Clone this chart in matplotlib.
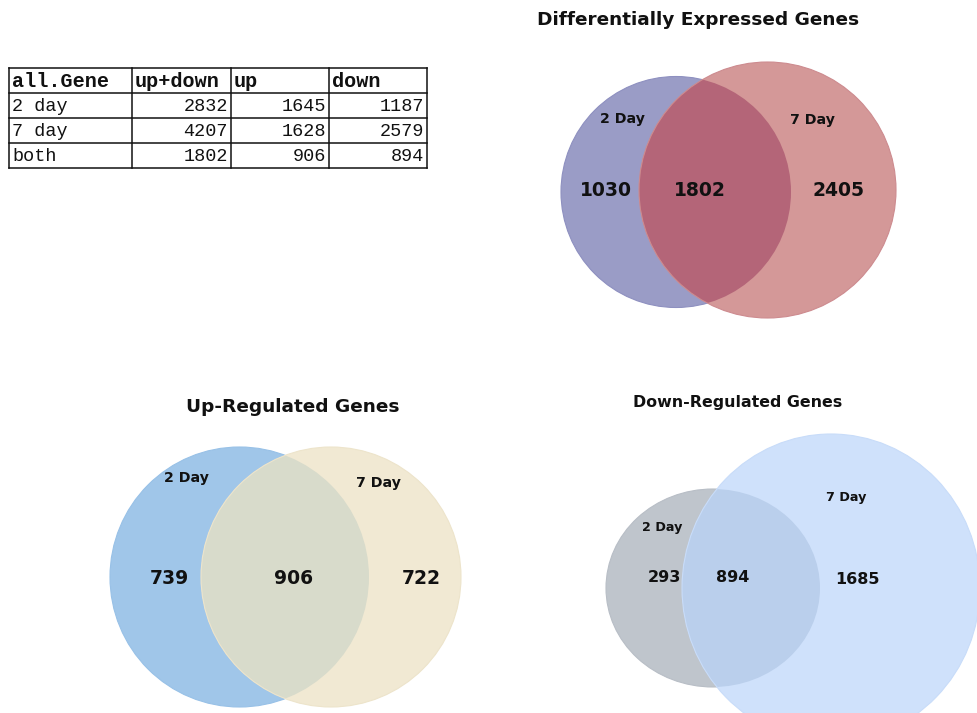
import matplotlib
matplotlib.use("Agg")
import matplotlib.pyplot as plt
from matplotlib.patches import Ellipse

# ---- data -------------------------------------------------------------
table_columns = ["all.Gene", "up+down", "up", "down"]
table_rows = ["2 day", "7 day", "both"]
updown_counts = [2832, 4207, 1802]
up_counts = [1645, 1628, 906]
down_counts = [1187, 2579, 894]

set_names = ["2 Day", "7 Day"]
# region counts: (only 2 Day, both, only 7 Day)
deg_regions = [1030, 1802, 2405]
up_regions = [739, 906, 722]
down_regions = [293, 894, 1685]

panel_titles = ["Differentially Expressed Genes", "Up-Regulated Genes",
                "Down-Regulated Genes"]

# ---- figure (pixel coordinate canvas) ---------------------------------
W, H = 978, 713
fig = plt.figure(figsize=(W / 100, H / 100), dpi=100)
ax = fig.add_axes([0, 0, 1, 1])
ax.set_xlim(0, W)
ax.set_ylim(H, 0)
ax.axis("off")

BOLD = dict(family="DejaVu Sans", fontweight="bold", color="#111111",
            ha="center", va="center")


def venn(spec):
    (ax1, ay1, rx1, ry1, c1, e1), (ax2, ay2, rx2, ry2, c2, e2), cov = spec
    a = Ellipse((ax1, ay1), 2 * rx1, 2 * ry1, facecolor=c1, edgecolor=e1,
                lw=0.8, zorder=1)
    b = Ellipse((ax2, ay2), 2 * rx2, 2 * ry2, facecolor=c2, edgecolor="none", zorder=2)
    ax.add_patch(a)
    ax.add_patch(b)
    ov = Ellipse((ax1, ay1), 2 * rx1, 2 * ry1, facecolor=cov, edgecolor="none", zorder=3)
    ax.add_patch(ov)
    ov.set_clip_path(b)
    ax.add_patch(Ellipse((ax2, ay2), 2 * rx2, 2 * ry2, facecolor="none",
                         edgecolor=e2, lw=0.8, zorder=4))


# Differentially expressed genes
venn([(676, 192, 115, 115.5, "#9a9cc6", "#8e90c0"),
      (767.5, 190, 128.5, 128, "#d49898", "#cd8b8f"),
      "#b46578"])
ax.text(698, 20, panel_titles[0], fontsize=13.3, **BOLD)
ax.text(623, 119, set_names[0], fontsize=10.2, **BOLD)
ax.text(813, 120, set_names[1], fontsize=10.2, **BOLD)
for x, v in zip([606, 700, 838], deg_regions):
    ax.text(x, 190, str(v), fontsize=13.5, **BOLD)

# Up-regulated genes
venn([(239.5, 577, 129.5, 130, "#a0c6e9", "#98c1e7"),
      (331, 577, 130, 130, "#f1e9d3", "#ede4cb"),
      "#d8dbcb"])
ax.text(293, 407, panel_titles[1], fontsize=13.3, **BOLD)
ax.text(186, 478, set_names[0], fontsize=10.2, **BOLD)
ax.text(379, 483, set_names[1], fontsize=10.2, **BOLD)
for x, v in zip([169, 294, 421], up_regions):
    ax.text(x, 578, str(v), fontsize=13.5, **BOLD)

# Down-regulated genes
venn([(713, 588, 107, 99, "#bfc5cc", "#b8bec6"),
      (831, 588, 149, 154, "#cfe1fb", "#c8dcf9"),
      "#bacfec"])
ax.text(738, 403, panel_titles[2], fontsize=11.4, **BOLD)
ax.text(662, 528, set_names[0], fontsize=9.2, **BOLD)
ax.text(846, 497, set_names[1], fontsize=9.2, **BOLD)
for x, y, v in zip([664, 733, 857], [577, 577, 580], down_regions):
    ax.text(x, y, str(v), fontsize=11.5, **BOLD)

# ---- summary table ----------------------------------------------------
col_edges = [9, 132, 231, 329, 427]
row_edges = [68, 93, 118, 143, 168]
for x in col_edges:
    ax.plot([x, x], [row_edges[0], row_edges[-1]], color="#111111", lw=1.1, zorder=5)
for y in row_edges:
    ax.plot([col_edges[0], col_edges[-1]], [y, y], color="#111111", lw=1.1, zorder=5)

MONO = ["Liberation Mono", "DejaVu Sans Mono"]
for j, name in enumerate(table_columns):
    ax.text(col_edges[j] + 3, (row_edges[0] + row_edges[1]) / 2 + 1, name,
            family=MONO, fontweight="bold", fontsize=14.5, ha="left", va="center",
            color="#111111", zorder=6)
for i, rname in enumerate(table_rows):
    yc = (row_edges[i + 1] + row_edges[i + 2]) / 2 + 1
    ax.text(col_edges[0] + 3, yc, rname, family=MONO, fontsize=13.3, ha="left",
            va="center", color="#111111", zorder=6)
    for j, vals in enumerate([updown_counts, up_counts, down_counts]):
        ax.text(col_edges[j + 2] - 3, yc, str(vals[i]), family=MONO, fontsize=13.3,
                ha="right", va="center", color="#111111", zorder=6)

fig.savefig("out.png", dpi=100, facecolor="white")
